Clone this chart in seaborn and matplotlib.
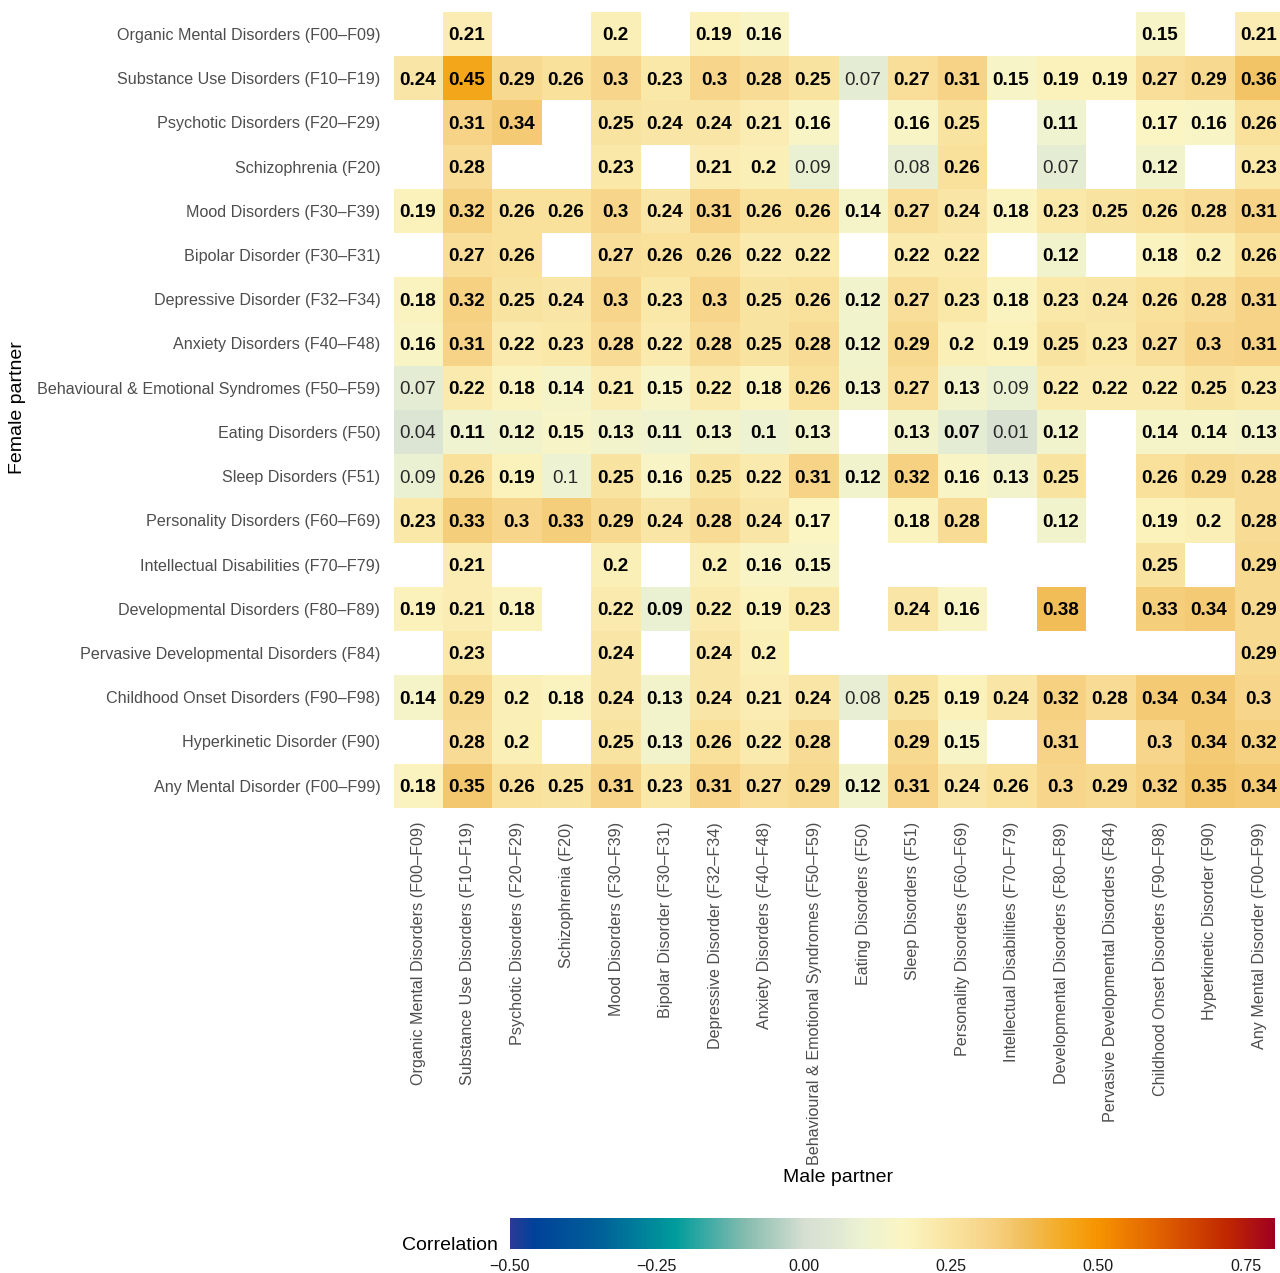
import numpy as np
import pandas as pd
import matplotlib
matplotlib.use("Agg")
import matplotlib.pyplot as plt
from matplotlib.colors import LinearSegmentedColormap
import seaborn as sns

# ---------------- data ----------------
categories = [
    "Organic Mental Disorders (F00\u2013F09)",
    "Substance Use Disorders (F10\u2013F19)",
    "Psychotic Disorders (F20\u2013F29)",
    "Schizophrenia (F20)",
    "Mood Disorders (F30\u2013F39)",
    "Bipolar Disorder (F30\u2013F31)",
    "Depressive Disorder (F32\u2013F34)",
    "Anxiety Disorders (F40\u2013F48)",
    "Behavioural & Emotional Syndromes (F50\u2013F59)",
    "Eating Disorders (F50)",
    "Sleep Disorders (F51)",
    "Personality Disorders (F60\u2013F69)",
    "Intellectual Disabilities (F70\u2013F79)",
    "Developmental Disorders (F80\u2013F89)",
    "Pervasive Developmental Disorders (F84)",
    "Childhood Onset Disorders (F90\u2013F98)",
    "Hyperkinetic Disorder (F90)",
    "Any Mental Disorder (F00\u2013F99)",
]
n = np.nan
# rows: female partner diagnosis, columns: male partner diagnosis
r_organic      = [n, .21, n, n, .2, n, .19, .16, n, n, n, n, n, n, n, .15, n, .21]
r_substance    = [.24, .45, .29, .26, .3, .23, .3, .28, .25, .07, .27, .31, .15, .19, .19, .27, .29, .36]
r_psychotic    = [n, .31, .34, n, .25, .24, .24, .21, .16, n, .16, .25, n, .11, n, .17, .16, .26]
r_schizo       = [n, .28, n, n, .23, n, .21, .2, .09, n, .08, .26, n, .07, n, .12, n, .23]
r_mood         = [.19, .32, .26, .26, .3, .24, .31, .26, .26, .14, .27, .24, .18, .23, .25, .26, .28, .31]
r_bipolar      = [n, .27, .26, n, .27, .26, .26, .22, .22, n, .22, .22, n, .12, n, .18, .2, .26]
r_depressive   = [.18, .32, .25, .24, .3, .23, .3, .25, .26, .12, .27, .23, .18, .23, .24, .26, .28, .31]
r_anxiety      = [.16, .31, .22, .23, .28, .22, .28, .25, .28, .12, .29, .2, .19, .25, .23, .27, .3, .31]
r_behavioural  = [.07, .22, .18, .14, .21, .15, .22, .18, .26, .13, .27, .13, .09, .22, .22, .22, .25, .23]
r_eating       = [.04, .11, .12, .15, .13, .11, .13, .1, .13, n, .13, .07, .01, .12, n, .14, .14, .13]
r_sleep        = [.09, .26, .19, .1, .25, .16, .25, .22, .31, .12, .32, .16, .13, .25, n, .26, .29, .28]
r_personality  = [.23, .33, .3, .33, .29, .24, .28, .24, .17, n, .18, .28, n, .12, n, .19, .2, .28]
r_intellectual = [n, .21, n, n, .2, n, .2, .16, .15, n, n, n, n, n, n, .25, n, .29]
r_developmental= [.19, .21, .18, n, .22, .09, .22, .19, .23, n, .24, .16, n, .38, n, .33, .34, .29]
r_pervasive    = [n, .23, n, n, .24, n, .24, .2, n, n, n, n, n, n, n, n, n, .29]
r_childhood    = [.14, .29, .2, .18, .24, .13, .24, .21, .24, .08, .25, .19, .24, .32, .28, .34, .34, .3]
r_hyperkinetic = [n, .28, .2, n, .25, .13, .26, .22, .28, n, .29, .15, n, .31, n, .3, .34, .32]
r_any          = [.18, .35, .26, .25, .31, .23, .31, .27, .29, .12, .31, .24, .26, .3, .29, .32, .35, .34]

# cells shown in plain (non-bold) type: (row, column)
non_bold_cells = [(1, 9), (3, 8), (3, 10), (3, 13), (8, 0), (8, 12),
                  (9, 0), (9, 12), (10, 0), (10, 3), (15, 9)]

colorbar_ticks = [-0.5, -0.25, 0.0, 0.25, 0.5, 0.75]

rows = [r_organic, r_substance, r_psychotic, r_schizo, r_mood, r_bipolar,
        r_depressive, r_anxiety, r_behavioural, r_eating, r_sleep,
        r_personality, r_intellectual, r_developmental, r_pervasive,
        r_childhood, r_hyperkinetic, r_any]
df = pd.DataFrame(rows, index=categories, columns=categories)
labels = df.map(lambda v: "" if pd.isna(v) else f"{v:g}")

# ---------------- style ----------------
sns.set_theme(style="white")
plt.rcParams["font.family"] = ["Liberation Sans", "DejaVu Sans"]

vmin, vmax = -0.5, 0.8
nodes = [
    (-0.50, "#2b3a94"), (-0.46, "#00429a"), (-0.35, "#005f98"),
    (-0.22, "#009c9c"), (-0.10, "#86bcae"), (0.00, "#d6dfd2"),
    (0.05, "#dee7d4"), (0.10, "#ecf2d2"), (0.17, "#fbf5c3"),
    (0.25, "#f9e3a0"), (0.32, "#f6d183"), (0.38, "#f1be58"),
    (0.45, "#f4a71c"), (0.50, "#f69400"), (0.60, "#e26400"),
    (0.72, "#c02800"), (0.80, "#a00020"),
]
cmap = LinearSegmentedColormap.from_list(
    "corr", [((v - vmin) / (vmax - vmin), c) for v, c in nodes])

W, H = 1280, 1273
fig = plt.figure(figsize=(W / 100, H / 100), dpi=100)
ax = fig.add_axes([393.5 / W, 1 - 808 / H, 890.5 / W, 796 / H])
cax = fig.add_axes([509.5 / W, 1 - 1249 / H, 765.5 / W, 31 / H])

sns.heatmap(df, ax=ax, cmap=cmap, vmin=vmin, vmax=vmax, mask=df.isna(),
            annot=labels, fmt="", cbar_ax=cax,
            cbar_kws={"orientation": "horizontal", "ticks": colorbar_ticks},
            annot_kws={"fontsize": 13.6, "fontweight": "bold", "color": "black"})

nb = set(non_bold_cells)
for t in ax.texts:
    x, y = t.get_position()
    t.set_position((x - 0.02, y + 0.04))
    if (int(y), int(x)) in nb:
        t.set_fontweight("normal")
        t.set_color("#2a2a2a")

ax.tick_params(axis="both", length=0)
ax.tick_params(axis="y", pad=9.5)
ax.tick_params(axis="x", pad=10)
ax.set_yticks(np.arange(len(categories)) + 0.53)
ax.set_yticklabels(categories, rotation=0, fontsize=11.6, color="#4d4d4d")
ax.set_xticklabels(categories, rotation=90, fontsize=11.6, color="#4d4d4d",
                   ha="center", va="top")
ax.set_xlabel("")
ax.set_ylabel("")

fig.text(838.5 / W, 1 - 1177 / H, "Male partner", ha="center", va="center",
         fontsize=14, color="black")
fig.text(18 / W, 1 - 408 / H, "Female partner", ha="center", va="center",
         rotation=90, fontsize=14, color="black")

# colorbar styling
cb = ax.collections[0].colorbar
cb.outline.set_visible(False)
cax.tick_params(axis="x", direction="in", color="white", length=5, width=1,
                top=True, bottom=True, labelsize=11.5, labelcolor="#1a1a1a",
                pad=7)
cax.set_xticklabels([f"{t:.2f}".replace("-", "\u2212") for t in colorbar_ticks])
fig.text(498 / W, 1 - 1246 / H, "Correlation", ha="right", va="center",
         fontsize=14, color="black")

fig.savefig("out.png", dpi=100)
